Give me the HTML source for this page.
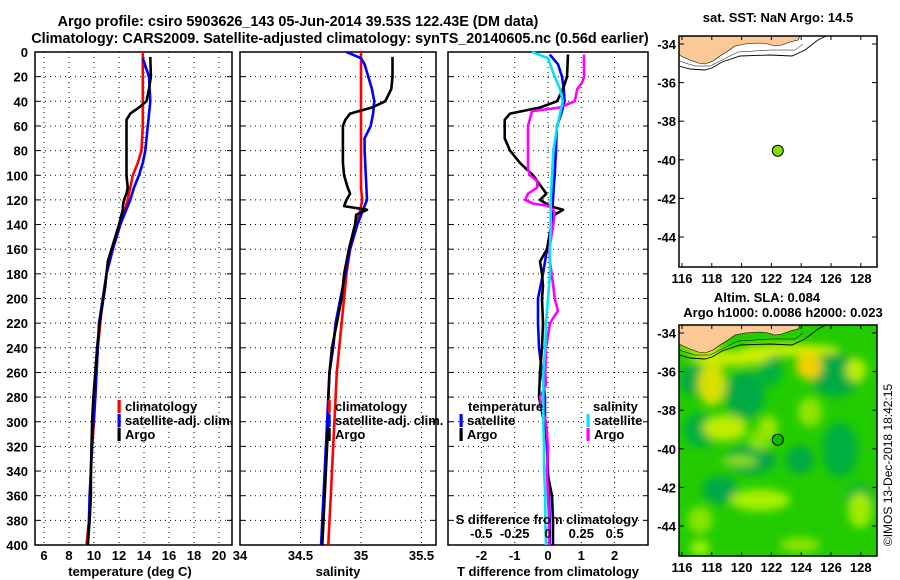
<!DOCTYPE html>
<html><head><meta charset="utf-8"><style>
html,body{margin:0;padding:0;background:#fff;}
svg{display:block;font-family:"Liberation Sans",sans-serif;font-weight:bold;}
</style></head><body>
<svg id="fig" width="900" height="580" viewBox="0 0 900 580" xmlns="http://www.w3.org/2000/svg">
<defs>
<filter id="blur" x="-20%" y="-20%" width="140%" height="140%"><feGaussianBlur stdDeviation="4.5"/></filter>
<clipPath id="clipBot"><rect x="679" y="325" width="198" height="231"/></clipPath>
<clipPath id="clipTop"><rect x="679" y="36" width="198" height="231"/></clipPath>
</defs>
<text x="298" y="26" font-size="14.4" text-anchor="middle">Argo profile: csiro 5903626_143 05-Jun-2014 39.53S 122.43E (DM data)</text>
<text x="340" y="43" font-size="14.4" text-anchor="middle">Climatology: CARS2009. Satellite-adjusted climatology: synTS_20140605.nc (0.56d earlier)</text>
<g id="plots"></g>
<g id="maps"></g>
<text transform="translate(892,465) rotate(-90)" font-size="12" font-weight="normal" text-anchor="middle">©IMOS 13-Dec-2018 18:42:15</text>
</svg>
<script>
// ---------- data ----------
const depthTicks = [0,20,40,60,80,100,120,140,160,180,200,220,240,260,280,300,320,340,360,380,400];
const tempTicks = [6,8,10,12,14,16,18,20];
const salTicks = [34,34.5,35,35.5];
const salTickLabels = ["34","34.5","35","35.5"];
const tdiffTicks = [-2,-1,0,1,2];
const sdiffTicks = [-0.5,-0.25,0,0.25,0.5];
const sdiffTickLabels = ["-0.5","-0.25","0","0.25","0.5"];

const climDepth = [0,10,20,30,40,50,60,70,80,90,100,110,120,130,140,160,180,200,220,240,260,280,300,320,340,360,380,400];
const tempClim = [13.9,13.9,13.9,13.9,13.9,13.9,13.9,13.85,13.8,13.5,13.1,12.9,12.7,12.4,12.1,11.5,11.0,10.7,10.5,10.3,10.2,10.1,10.0,9.85,9.75,9.7,9.6,9.4];
const salClim = [35.0,35.0,35.0,35.0,35.0,35.0,35.0,35.0,35.0,35.0,35.0,35.0,35.01,34.99,34.96,34.91,34.88,34.86,34.84,34.82,34.80,34.79,34.78,34.77,34.76,34.75,34.74,34.73];

const tempSatDepth = [5,20,40,60,80,90,100,110,120,130,140,160,180,200,220,240,260,280,300,320,340,360,380,400];
const tempSat = [13.9,14.4,14.5,14.3,14.1,13.9,13.6,13.2,12.9,12.5,12.1,11.5,11.0,10.7,10.4,10.3,10.2,10.1,9.95,9.85,9.75,9.65,9.6,9.5];
const salSatDepth = [0,5,10,20,30,40,50,60,70,80,100,120,130,140,160,180,200,220,240,260,280,300,340,400];
const salSat = [34.88,35.0,35.03,35.06,35.09,35.11,35.1,35.08,35.03,35.03,35.04,35.05,35.01,34.97,34.91,34.87,34.83,34.79,34.77,34.74,34.73,34.72,34.7,34.67];

const argoDepth = [4,20,30,40,45,50,55,60,70,80,90,100,110,115,120,125,128,132,140,160,170,180,190,200,220,240,260,280,300,320,340,360,380,400];
const argoTemp = [14.5,14.55,14.4,14.2,13.6,12.9,12.6,12.6,12.6,12.6,12.6,12.6,12.7,12.6,12.4,12.3,12.3,12.2,12.0,11.4,11.1,11.0,10.9,10.75,10.45,10.25,10.1,9.95,9.85,9.8,9.75,9.75,9.65,9.5];
const argoSal = [35.26,35.26,35.25,35.2,35.09,34.91,34.87,34.85,34.85,34.85,34.85,34.86,34.89,34.91,34.88,34.86,35.05,34.96,34.95,34.9,34.88,34.86,34.85,34.84,34.8,34.76,34.74,34.73,34.73,34.72,34.71,34.7,34.69,34.68];

const satTdiffDepth = [2,10,20,30,40,50,60,70,80,90,100,110,120,130,140,160,180,200,220,240,260,280,300,320,340,360,380,400];
const satTdiff = [0.05,0.3,0.42,0.47,0.5,0.4,0.27,0.25,0.24,0.22,0.2,0.17,0.15,0.12,0.1,-0.03,-0.15,-0.3,-0.3,-0.27,-0.18,-0.09,-0.09,-0.03,0,0.03,0.05,0.05];
const satSdiffDepth = [0,5,20,30,40,50,60,80,100,120,140,160,180,200,220,240,260,280,300,320,340,360,380,400];
const satSdiff = [-0.12,0,0.05,0.09,0.11,0.09,0.07,0.04,0.03,0.02,0.02,0.015,0.015,0,-0.015,-0.02,-0.035,-0.035,-0.035,-0.03,-0.03,-0.02,-0.02,-0.015];
const argoTdiffDepth = [2,20,30,40,45,50,55,60,70,80,90,100,110,115,120,125,128,132,140,160,170,180,190,200,220,240,260,280,300,320,340,360,380,400];
const argoTdiff = [0.6,0.57,0.45,0.27,-0.24,-1.14,-1.3,-1.3,-1.3,-1.14,-0.84,-0.45,-0.18,-0.05,-0.24,0.06,0.45,0.2,0.12,-0.03,-0.24,-0.18,-0.15,-0.18,-0.15,-0.18,-0.24,-0.27,-0.12,0,-0.03,0.12,0.15,0.15];
const argoSdiffDepth = [2,20,25,30,40,45,48,60,80,95,100,105,110,115,120,123,125,130,140,160,170,190,200,210,220,240,260,270,280,290,300,320,340,360,380,400];
const argoSdiff = [0.27,0.27,0.255,0.22,0.2,0.09,-0.12,-0.15,-0.15,-0.15,-0.135,-0.08,-0.08,-0.15,-0.17,-0.11,0.015,0.05,0.04,0.01,0.015,0.04,0.05,0.075,0.015,-0.015,-0.02,-0.015,-0.06,-0.045,-0.015,0,-0.008,0,0.008,0.008];

const mapLonTicks = [116,118,120,122,124,126,128];
const mapLatTicks = [-34,-36,-38,-40,-42,-44];
const argoLon = 122.43, argoLat = -39.53;

// ---------- helpers ----------
const NS = "http://www.w3.org/2000/svg";
function mk(tag, attrs, parent){const e=document.createElementNS(NS,tag);for(const k in attrs)e.setAttribute(k,attrs[k]);parent.appendChild(e);return e;}
const plots = document.getElementById('plots');
const TOP=52, BOT=545;
const yD = d => TOP + d*(BOT-TOP)/400;

function panel(name, x0, x1, xScale, gridVals, tickVals, tickLabels, showDepthLabels){
  const g = mk('g',{},plots);
  
  
  depthTicks.forEach(d=>{
    if(d>0&&d<400){const l=mk('line',{x1:x0,x2:x1,y1:yD(d),y2:yD(d),stroke:'#000','stroke-width':1,'stroke-dasharray':'1,4'},g);
    
    }
    mk('line',{x1:x0,x2:x0+5,y1:yD(d),y2:yD(d),stroke:'#000'},g);
    mk('line',{x1:x1-5,x2:x1,y1:yD(d),y2:yD(d),stroke:'#000'},g);
    if(showDepthLabels){const t=mk('text',{x:28,y:yD(d)+5,'font-size':13,'text-anchor':'end'},g);t.textContent=d;
      
      }
  });
  gridVals.forEach(v=>{const x=xScale(v); if(x>x0+1&&x<x1-1){
    const l=mk('line',{x1:x,x2:x,y1:TOP,y2:BOT,stroke:'#000','stroke-width':1,'stroke-dasharray':'1,4'},g);
    
    }});
  tickVals.forEach((v,i)=>{const t=mk('text',{x:xScale(v),y:560,'font-size':13,'text-anchor':'middle'},g);t.textContent=tickLabels[i];
    
    });
  const r=mk('rect',{x:x0,y:TOP,width:x1-x0,height:BOT-TOP,fill:'none',stroke:'#000','stroke-width':1.5},g);
  
  
  return g;
}
function line(g, depths, vals, xScale, color, name){
  const pts = depths.map((d,i)=>xScale(vals[i]).toFixed(1)+','+yD(d).toFixed(1)).join(' ');
  const p = mk('polyline',{points:pts,fill:'none',stroke:color,'stroke-width':2.6,'stroke-linejoin':'round'},g);
  
  
  return p;
}
function legend(g, x, y, color, label, name){
  mk('rect',{x:x-1.5,y:y-11,width:3.2,height:13,fill:color},g);
  const t=mk('text',{x:x+6,y:y,'font-size':13},g); t.textContent=label;
  
  
}
function label(g,x,y,txt,name,anchor){
  const t=mk('text',{x:x,y:y,'font-size':13,'text-anchor':anchor||'middle'},g); t.textContent=txt;
  
  
}

// temperature panel
const xT = v => 44 + (v-6)*12.5;
const g1 = panel('temperature-panel',35,232,xT,tempTicks,tempTicks,tempTicks.map(String),true);
line(g1, climDepth, tempClim, xT, '#ff0000', 'temp-climatology-line');
line(g1, tempSatDepth, tempSat, xT, '#0000ff', 'temp-satellite-line');
line(g1, argoDepth, argoTemp, xT, '#000000', 'temp-argo-line');
legend(g1,119,411,'#ff0000','climatology','legend-climatology');
legend(g1,119,425,'#0000ff','satellite-adj. clim.','legend-satellite');
legend(g1,119,439,'#000000','Argo','legend-argo');
label(g1,130,576,'temperature (deg C)','temperature-axis-title');

// salinity panel
const xS = v => 240 + (v-34)*121;
const g2 = panel('salinity-panel',240,436,xS,[34.5,35,35.5],salTicks,salTickLabels,false);
line(g2, climDepth, salClim, xS, '#ff0000', 'sal-climatology-line');
line(g2, salSatDepth, salSat, xS, '#0000ff', 'sal-satellite-line');
line(g2, argoDepth, argoSal, xS, '#000000', 'sal-argo-line');
legend(g2,329,411,'#ff0000','climatology','legend-climatology');
legend(g2,329,425,'#0000ff','satellite-adj. clim.','legend-satellite');
legend(g2,329,439,'#000000','Argo','legend-argo');
label(g2,338,576,'salinity','salinity-axis-title');

// difference panel
const xTd = v => 548 + v*33.3;
const xSd = v => 548 + v*133.3;
const g3 = panel('difference-panel',448,648,xTd,tdiffTicks,tdiffTicks,tdiffTicks.map(String),false);
line(g3, satTdiffDepth, satTdiff, xTd, '#0000ff', 'tdiff-satellite-line');
line(g3, argoTdiffDepth, argoTdiff, xTd, '#000000', 'tdiff-argo-line');
line(g3, argoSdiffDepth, argoSdiff, xSd, '#ff00ff', 'sdiff-argo-line');
line(g3, satSdiffDepth, satSdiff, xSd, '#00e5ee', 'sdiff-satellite-line');
label(g3,468,411,'temperature','legend-temperature-header','start');
legend(g3,461,425,'#0000ff','satellite','legend-t-satellite');
legend(g3,461,439,'#000000','Argo','legend-t-argo');
label(g3,593,411,'salinity','legend-salinity-header','start');
legend(g3,588,425,'#00e5ee','satellite','legend-s-satellite');
legend(g3,588,439,'#ff00ff','Argo','legend-s-argo');
label(g3,547,524,'S difference from climatology','s-diff-axis-title');
sdiffTicks.forEach((v,i)=>label(g3,xSd(v),538,sdiffTickLabels[i],'s-diff-tick-label'));
label(g3,548,576,'T difference from climatology','t-diff-axis-title');

// ---------- maps ----------
const maps = document.getElementById('maps');
const mx = lon => 682 + (lon-116)*14.9;
function mapPanel(name, top){
  const g = mk('g',{},maps);
  
  
  const my = lat => top + 8 + (-34-lat)*19.3;
  return {g, my};
}
function mapFrame(g, top, my){
  mapLatTicks.forEach(l=>{const y=my(l);
    mk('line',{x1:679,x2:684,y1:y,y2:y,stroke:'#000'},g);
    mk('line',{x1:872,x2:877,y1:y,y2:y,stroke:'#000'},g);
    label(g,676,y+5,String(l),'lat-tick-label','end');});
  mapLonTicks.forEach(l=>{const x=mx(l);
    mk('line',{x1:x,x2:x,y1:top,y2:top+4,stroke:'#000'},g);
    mk('line',{x1:x,x2:x,y1:top+227,y2:top+231,stroke:'#000'},g);
    label(g,x,top+247,String(l),'lon-tick-label');});
  const r=mk('rect',{x:679,y:top,width:198,height:231,fill:'none',stroke:'#000','stroke-width':1.5},g);
  
  
}
function coast(g, top){
  const d = top-36;
  const land = mk('polygon',{points:[[679,36],[800,36],[798,40],[790,42],[782,45],[775,46],[768,44],[760,43],[745,44],[735,46],[728,51],[720,56],[713,61],[705,64],[698,63],[690,60],[683,57],[679,55]].map(p=>p[0]+','+(p[1]+d)).join(' '),fill:'#fbc896',stroke:'#000','stroke-width':0.6},g);
  
  
  mk('polyline',{points:[[679,66],[690,69],[705,70],[712,68],[722,62],[740,56],[770,55],[792,56],[805,50],[818,40],[826,36]].map(p=>p[0]+','+(p[1]+d)).join(' '),fill:'none',stroke:'#000','stroke-width':0.9},g);
  mk('polyline',{points:[[679,61],[695,66],[710,66],[722,60],[738,52],[770,50],[795,50],[803,44]].map(p=>p[0]+','+(p[1]+d)).join(' '),fill:'none',stroke:'#000','stroke-width':0.5},g);
}
// top map
const tm = mapPanel('sst-map',36);
label(tm.g,778,22,'sat. SST: NaN Argo: 14.5','sst-map-title');
mk('rect',{x:679,y:36,width:198,height:231,fill:'#fff'},tm.g);
coast(tm.g,36);
const d1=mk('circle',{cx:mx(argoLon),cy:tm.my(argoLat),r:5.5,fill:'#7fe000',stroke:'#000','stroke-width':1},tm.g);


mapFrame(tm.g,36,tm.my);

// bottom map
const bm = mapPanel('sla-map',325);
label(bm.g,767,302,'Altim. SLA: 0.084','sla-map-title');
label(bm.g,783,317,'Argo h1000: 0.0086 h2000: 0.023','sla-map-subtitle');
const hm = mk('g',{'clip-path':'url(#clipBot)'},bm.g);


mk('rect',{x:679,y:325,width:198,height:231,fill:'#22cc00'},hm);
const blobs = mk('g',{filter:'url(#blur)'},hm);
[[694,380,14,16,'#00aa44'],[745,395,20,24,'#00aa44'],[770,368,12,18,'#00b040'],[835,375,25,22,'#00aa44'],[700,430,16,18,'#00b040'],[750,460,26,14,'#00a848'],[720,490,18,14,'#00a848'],[800,460,14,14,'#00aa44'],[840,450,18,28,'#00b040'],[860,500,14,16,'#00aa44'],
 [730,358,40,8,'#c8ee00'],[790,350,50,6,'#d0f000'],[700,345,20,6,'#e8f000'],
 [711,382,9,14,'#f0a000'],[712,384,14,22,'#d8e000'],[725,428,22,13,'#c0ec00'],[768,428,10,12,'#a0e800'],
 [809,366,13,14,'#f0d000'],[856,370,10,12,'#c0ee00'],[810,412,12,15,'#90e400'],[760,500,30,11,'#a8f000'],[740,461,18,5,'#90e400'],[700,520,12,14,'#88e400'],[860,510,12,18,'#a0ec00'],[700,548,10,8,'#a0f000'],[800,545,20,8,'#8ae400'],[760,440,12,10,'#88e400']]
 .forEach(b=>mk('ellipse',{cx:b[0],cy:b[1],rx:b[2],ry:b[3],fill:b[4]},blobs));
coast(hm,325);
const d2=mk('circle',{cx:mx(argoLon),cy:bm.my(argoLat),r:5.5,fill:'#00c000',stroke:'#000','stroke-width':1},bm.g);


mapFrame(bm.g,325,bm.my);
</script>
</body></html>
